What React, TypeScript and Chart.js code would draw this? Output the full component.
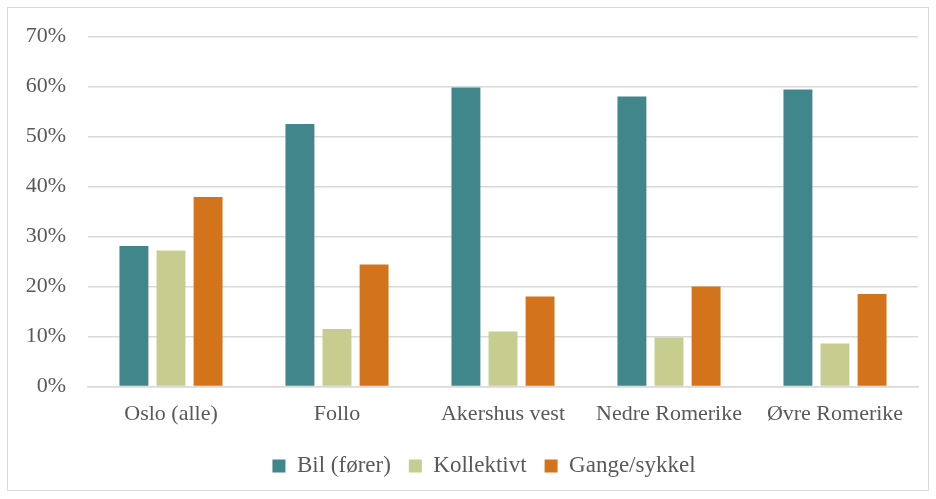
import React, { useEffect, useRef } from "react";
import { Chart, registerables } from "chart.js";

Chart.register(...registerables);

const categories = ["Oslo (alle)", "Follo", "Akershus vest", "Nedre Romerike", "Øvre Romerike"];
const bilForer = [28.1, 52.5, 59.8, 58.0, 59.4];
const kollektivt = [27.2, 11.5, 11.0, 9.8, 8.6];
const gangeSykkel = [37.9, 24.4, 18.0, 20.0, 18.5];
const seriesNames = ["Bil (fører)", "Kollektivt", "Gange/sykkel"];
const yTicks = [0, 10, 20, 30, 40, 50, 60, 70];

const FONT = "'Liberation Serif', 'Times New Roman', serif";
const TEXT = "#595959";

const legendShift = {
  id: "legendShift",
  afterUpdate(chart: any) {
    if (chart.legend) {
      chart.legend.left += 21;
      chart.legend.right += 21;
    }
  },
};

export default function App() {
  const ref = useRef<HTMLCanvasElement | null>(null);

  useEffect(() => {
    if (!ref.current) return;
    const chart = new Chart(ref.current, {
      type: "bar",
      data: {
        labels: categories,
        datasets: [
          { label: seriesNames[0], data: bilForer, backgroundColor: "#41868b" },
          { label: seriesNames[1], data: kollektivt, backgroundColor: "#c6cd8e" },
          { label: seriesNames[2], data: gangeSykkel, backgroundColor: "#d3731c" },
        ],
      },
      options: {
        responsive: false,
        animation: false,
        layout: { padding: { top: 28.5, right: 10, bottom: 2.5, left: 0 } },
        datasets: {
          bar: { categoryPercentage: 0.67, barPercentage: 0.78 },
        },
        plugins: {
          tooltip: { enabled: false },
          legend: {
            position: "bottom",
            labels: {
              boxWidth: 13,
              boxHeight: 13,
              padding: 18,
              color: TEXT,
              font: { family: FONT, size: 23 },
            },
          },
        },
        scales: {
          x: {
            grid: { display: false, drawTicks: false },
            border: { display: true, color: "#d9d9d9", width: 1.5 },
            ticks: { color: TEXT, font: { family: FONT, size: 22 }, padding: 15, maxRotation: 0 },
            afterFit: (s: any) => {
              s.height = 50;
            },
          },
          y: {
            min: 0,
            max: 70,
            afterBuildTicks: (s: any) => {
              s.ticks = yTicks.map((v) => ({ value: v }));
            },
            grid: { color: "#d9d9d9", lineWidth: 1.5, drawTicks: false },
            border: { display: false },
            ticks: {
              color: TEXT,
              font: { family: FONT, size: 22 },
              padding: 22,
              callback: (v: any) => v + "%",
            },
            afterFit: (s: any) => {
              s.width = 80;
              s.paddingTop = 10;
              s.paddingBottom = 10;
            },
          },
        },
      },
      plugins: [legendShift],
    });
    return () => chart.destroy();
  }, []);

  return (
    <div
      style={{
        position: "absolute",
        left: 7,
        top: 7,
        width: 920,
        height: 482,
        border: "1px solid #d9d9d9",
        background: "#fff",
      }}
    >
      <canvas ref={ref} width={920} height={482} style={{ display: "block" }} />
    </div>
  );
}
